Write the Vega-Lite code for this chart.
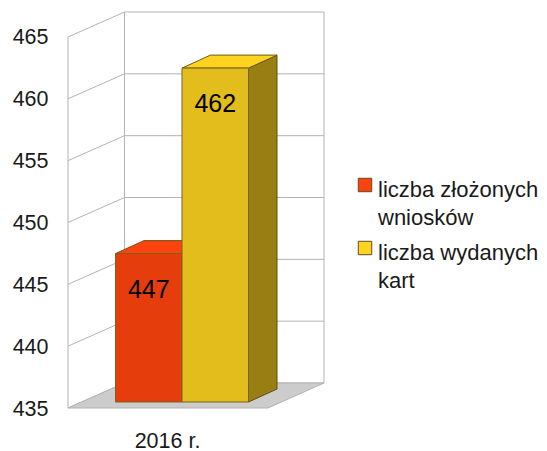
{
"$schema":"https://vega.github.io/schema/vega-lite/v6.json",
"width":256,"height":396,"autosize":"none",
"padding":{"left":68,"top":12,"right":223,"bottom":43},
"background":"white",
"config":{"view":{"stroke":null},"font":"Liberation Sans"},
"datasets":{
"bars":[
{"category":"2016 r.","series":"liczba złożonych wniosków","value":447,"slot":0},
{"category":"2016 r.","series":"liczba wydanych kart","value":462,"slot":1}],
"ticks":[{"tick":435},{"tick":440},{"tick":445},{"tick":450},{"tick":455},{"tick":460},{"tick":465}],
"walls":[{"wx":0,"lift":0},{"wx":56.5,"lift":2.02},{"wx":256,"lift":2.02}],
"floor":[{"base":435,"category":"2016 r."}]
},
"encoding":{
"x":{"field":"px","type":"quantitative","title":null,
"scale":{"domain":[0,256],"nice":false,"zero":false},
"axis":null},
"y":{"field":"py","type":"quantitative","title":null,
"scale":{"domain":[435,467.02],"nice":false,"zero":false},
"axis":{"values":[435,440,445,450,455,460,465],"ticks":false,"domain":false,"grid":false,"labelFontSize":21.5,"labelColor":"#1a1a1a","labelPadding":20,"labelOffset":1,"labelFont":"Liberation Sans"}}
},
"layer":[
{"data":{"name":"ticks"},
"transform":[{"calculate":"56.5","as":"px"},{"calculate":"256","as":"px2"},{"calculate":"datum.tick+2.02","as":"py"}],
"mark":{"type":"rule","color":"#b3b3b3","strokeWidth":1},
"encoding":{"x2":{"field":"px2"}}},
{"data":{"name":"ticks"},
"transform":[{"calculate":"0","as":"px"},{"calculate":"56.5","as":"px2"},{"calculate":"datum.tick","as":"py"},{"calculate":"datum.tick+2.02","as":"py2"}],
"mark":{"type":"rule","color":"#b3b3b3","strokeWidth":1},
"encoding":{"x2":{"field":"px2"},"y2":{"field":"py2"}}},
{"data":{"name":"walls"},
"transform":[{"calculate":"datum.wx","as":"px"},{"calculate":"435+datum.lift","as":"py"},{"calculate":"465+datum.lift","as":"py2"}],
"mark":{"type":"rule","color":"#b3b3b3","strokeWidth":1},
"encoding":{"y2":{"field":"py2"}}},
{"data":{"name":"floor"},
"transform":[{"calculate":"[0,1]","as":"d"},{"flatten":["d"]},{"calculate":"56.5*datum.d","as":"px"},{"calculate":"200+56*datum.d","as":"px2"},{"calculate":"datum.base+2.02*datum.d","as":"py"}],
"mark":{"type":"area","orient":"horizontal","fill":"#cccccc","stroke":"#b3b3b3","strokeWidth":1},
"encoding":{"x2":{"field":"px2"}}},
{"data":{"name":"floor"},
"transform":[{"calculate":"99.5","as":"px"},{"calculate":"datum.base","as":"py"}],
"mark":{"type":"text","fontSize":21.5,"color":"#1a1a1a","baseline":"middle","align":"center","dy":34,"font":"Liberation Sans"},
"encoding":{"text":{"field":"category","type":"nominal"}}},
{"data":{"name":"bars"},
"transform":[{"calculate":"47.5+66.5*datum.slot","as":"left"},{"calculate":"[0,1]","as":"d"},{"flatten":["d"]},{"calculate":"datum.left+66.5+28.5*datum.d","as":"px"},{"calculate":"datum.value+0.485+1.05*datum.d","as":"py"},{"calculate":"435.485+1.05*datum.d","as":"py2"}],
"mark":{"type":"area","stroke":"#5c4c10","strokeWidth":1},
"encoding":{"y2":{"field":"py2"},"color":{"field":"series","type":"nominal","legend":null,"scale":{"domain":["liczba złożonych wniosków","liczba wydanych kart"],"range":["#99290a","#997f13"]}}}},
{"data":{"name":"bars"},
"transform":[{"calculate":"47.5+66.5*datum.slot","as":"left"},{"calculate":"[0,1]","as":"d"},{"flatten":["d"]},{"calculate":"datum.left+28.5*datum.d","as":"px"},{"calculate":"datum.left+66.5+28.5*datum.d","as":"px2"},{"calculate":"datum.value+0.485+1.05*datum.d","as":"py"}],
"mark":{"type":"area","orient":"horizontal","stroke":"#6e5a1a","strokeWidth":1},
"encoding":{"x2":{"field":"px2"},"color":{"field":"series","type":"nominal",
"scale":{"domain":["liczba złożonych wniosków","liczba wydanych kart"],"range":["#ff420e","#ffd320"]},
"legend":{"title":null,"orient":"none","legendX":286,"legendY":162,"symbolType":"square","symbolSize":180,"symbolStrokeColor":"#5c4c20","symbolStrokeWidth":1,"labelFontSize":22,"labelColor":"#1a1a1a","labelFont":"Liberation Sans","labelLimit":220,"labelBaseline":"top","labelOffset":2,"rowPadding":8,
"labelExpr":"datum.label == 'liczba złożonych wniosków' ? ['liczba złożonych','wniosków'] : ['liczba wydanych','kart']",
"encode":{"labels":{"update":{"lineHeight":{"value":28},"dy":{"value":-5}}}}}}}},
{"data":{"name":"bars"},
"transform":[{"calculate":"47.5+66.5*datum.slot","as":"px"},{"calculate":"datum.px+66.5","as":"px2"},{"calculate":"datum.value+0.485","as":"py"},{"calculate":"435.485","as":"py2"}],
"mark":{"type":"rect","stroke":"#7a6420","strokeWidth":1},
"encoding":{"x2":{"field":"px2"},"y2":{"field":"py2"},"color":{"field":"series","type":"nominal","legend":null,"scale":{"domain":["liczba złożonych wniosków","liczba wydanych kart"],"range":["#e63d0c","#e3bd1c"]}}}},
{"data":{"name":"bars"},
"transform":[{"calculate":"47.5+66.5*datum.slot+33.25","as":"px"},{"calculate":"datum.value+0.485","as":"py"}],
"mark":{"type":"text","fontSize":25,"color":"#000000","baseline":"middle","align":"center","dy":36,"font":"Liberation Sans"},
"encoding":{"text":{"field":"value","type":"nominal"}}}
],
"resolve":{"scale":{"color":"independent"}}
}
